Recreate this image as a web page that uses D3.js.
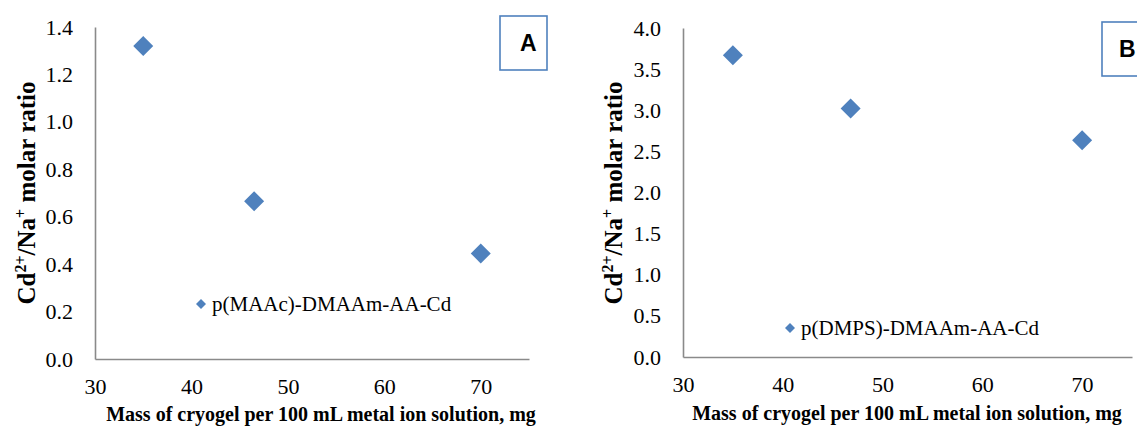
<!DOCTYPE html>
<html>
<head>
<meta charset="utf-8">
<script src="https://cdn.jsdelivr.net/npm/d3@7"></script>
<style>
  html, body { margin: 0; padding: 0; background: #fff; }
  svg { display: block; }
</style>
</head>
<body>
<svg id="chart" width="1137" height="426"></svg>
<script>
// ---- data ----
const xTicks = [30, 40, 50, 60, 70];
const massA = [35, 46.5, 70];
const ratioA = [1.32, 0.665, 0.445];
const yTicksA = [0.0, 0.2, 0.4, 0.6, 0.8, 1.0, 1.2, 1.4];
const massB = [35, 46.8, 70];
const ratioB = [3.67, 3.02, 2.635];
const yTicksB = [0.0, 0.5, 1.0, 1.5, 2.0, 2.5, 3.0, 3.5, 4.0];
const legendA = "p(MAAc)-DMAAm-AA-Cd";
const legendB = "p(DMPS)-DMAAm-AA-Cd";
const xTitle = "Mass of cryogel per 100 mL metal ion solution, mg";
const panelLetters = ["A", "B"];

const svg = d3.select("#chart");
const SERIF = "'Liberation Serif', 'Times New Roman', serif";
const SANS = "'Liberation Sans', Arial, sans-serif";
const BLUE = "#4F81BD";
const AXIS = "#8a8a8a";

const panels = [
  { mass: massA, ratio: ratioA, yTicks: yTicksA, yMax: 1.4, legend: legendA, letter: panelLetters[0],
    left: 95, right: 529, top: 27, bottom: 359, yTitleX: 35, legendX: 201, legendY: 304,
    box: { x: 500, y: 16, w: 47, h: 54 }, letterX: 520, xTitleX: 321, xTitleY: 421 },
  { mass: massB, ratio: ratioB, yTicks: yTicksB, yMax: 4.0, legend: legendB, letter: panelLetters[1],
    left: 683, right: 1132, top: 28, bottom: 357, yTitleX: 622, legendX: 790, legendY: 328,
    box: { x: 1102, y: 22, w: 47, h: 54 }, letterX: 1119, xTitleX: 907, xTitleY: 420 }
];

panels.forEach(p => {
  const x = d3.scaleLinear().domain([30, 75]).range([p.left, p.right]);
  const y = d3.scaleLinear().domain([0, p.yMax]).range([p.bottom, p.top]);
  const g = svg.append("g");

  // y axis
  const ya = g.append("g").attr("transform", `translate(${p.left},0)`)
    .call(d3.axisLeft(y).tickValues(p.yTicks).tickFormat(d3.format(".1f")).tickSize(0).tickSizeOuter(0).tickPadding(22));
  ya.attr("font-family", null).attr("font-size", null);
  ya.selectAll(".tick text").style("font-family", SERIF).style("font-size", "22px").style("fill", "#000");
  ya.select(".domain").attr("stroke", AXIS).attr("stroke-width", 1.6);

  // x axis
  const xa = g.append("g").attr("transform", `translate(0,${p.bottom})`)
    .call(d3.axisBottom(x).tickValues(xTicks).tickFormat(d3.format("d")).tickSize(0).tickSizeOuter(0).tickPadding(19));
  xa.attr("font-family", null).attr("font-size", null);
  xa.selectAll(".tick text").style("font-family", SERIF).style("font-size", "22px").style("fill", "#000");
  xa.select(".domain").attr("stroke", AXIS).attr("stroke-width", 1.6);

  // points
  const sym = d3.symbol().type(d3.symbolSquare).size(200);
  g.selectAll("path.pt").data(p.mass.map((m, i) => [m, p.ratio[i]])).enter()
    .append("path").attr("class", "pt")
    .attr("d", sym)
    .attr("transform", d => `translate(${x(d[0])},${y(d[1])}) rotate(45)`)
    .attr("fill", BLUE);

  // legend
  g.append("path").attr("d", d3.symbol().type(d3.symbolSquare).size(50)())
    .attr("transform", `translate(${p.legendX},${p.legendY}) rotate(45)`)
    .attr("fill", BLUE);
  g.append("text").attr("x", p.legendX + 11).attr("y", p.legendY).attr("dy", "0.35em")
    .style("font-family", SERIF).style("font-size", "21px").attr("fill", "#000").text(p.legend);

  // y title
  const yt = g.append("text")
    .attr("transform", `translate(${p.yTitleX},193) rotate(-90)`)
    .attr("text-anchor", "middle")
    .style("font-family", SERIF).style("font-size", "25px").style("font-weight", "bold").attr("fill", "#000");
  yt.append("tspan").text("Cd");
  yt.append("tspan").style("font-size", "16px").attr("dy", -9).text("2+");
  yt.append("tspan").attr("dy", 9).text("/Na");
  yt.append("tspan").style("font-size", "16px").attr("dy", -9).text("+");
  yt.append("tspan").attr("dy", 9).text(" molar ratio");

  // x title
  g.append("text").attr("x", p.xTitleX).attr("y", p.xTitleY).attr("text-anchor", "middle")
    .style("font-family", SERIF).style("font-size", "20px").style("font-weight", "bold").attr("fill", "#000")
    .text(xTitle);

  // panel letter box
  g.append("rect").attr("x", p.box.x).attr("y", p.box.y).attr("width", p.box.w).attr("height", p.box.h)
    .attr("fill", "#fff").attr("stroke", BLUE).attr("stroke-width", 1.6);
  g.append("text").attr("x", p.letterX).attr("y", p.box.y + p.box.h / 2).attr("dy", "0.36em")
    .attr("text-anchor", "start").style("font-family", SANS).style("font-size", "23px").style("font-weight", "bold")
    .attr("fill", "#000").text(p.letter);
});
</script>
</body>
</html>
